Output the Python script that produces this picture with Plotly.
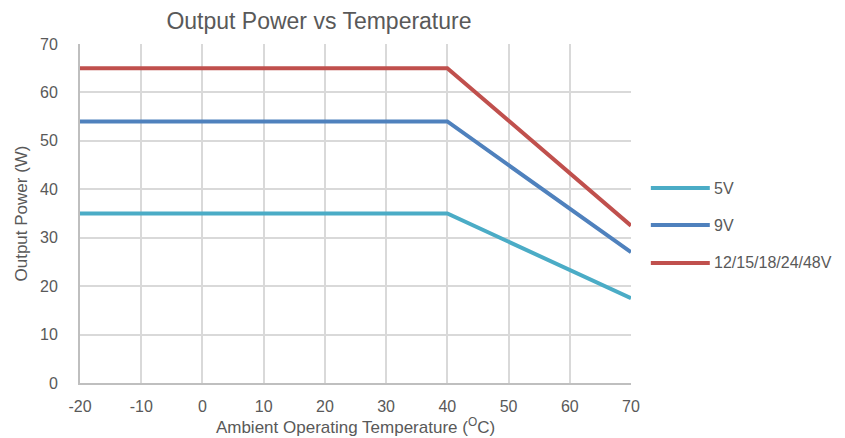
import plotly.graph_objects as go

temps = [-20, 40, 70]
p_5v = [35, 35, 17.5]
p_9v = [54, 54, 27]
p_12v = [65, 65, 32.5]
names = ["5V", "9V", "12/15/18/24/48V"]
colors = ["#4BACC6", "#4F81BD", "#C0504D"]
series = [p_5v, p_9v, p_12v]
x_ticks = [-20, -10, 0, 10, 20, 30, 40, 50, 60, 70]
x_labels = ["-20", "-10", "0", "10", "20", "30", "40", "50", "60", "70"]
y_ticks = [0, 10, 20, 30, 40, 50, 60, 70]

FONT = "Liberation Sans, Arial, sans-serif"
fig = go.Figure()
for name, vals, c in zip(names, series, colors):
    fig.add_trace(go.Scatter(x=temps, y=vals, mode="lines", name=name,
                             line=dict(color=c, width=4), showlegend=False))

# manual legend (Excel style long line keys)
leg_y = [0.575, 0.466, 0.354]
for name, c, yy in zip(names, colors, leg_y):
    fig.add_shape(type="line", xref="paper", yref="paper", x0=1.036, x1=1.143,
                  y0=yy, y1=yy, line=dict(color=c, width=4))
    fig.add_annotation(xref="paper", yref="paper", x=1.147, y=yy, text=name,
                       showarrow=False, xanchor="left", yanchor="middle",
                       font=dict(family=FONT, size=16, color="#595959"))

fig.update_layout(
    width=845, height=438,
    margin=dict(l=72, r=222, t=36, b=63),
    paper_bgcolor="white", plot_bgcolor="white",
    title=dict(text="Output Power vs Temperature", x=0.368, xanchor="center",
               y=0.97, yanchor="middle",
               font=dict(family=FONT, size=23, color="#595959")),
    font=dict(family=FONT, size=16, color="#595959"),
)
fig.update_xaxes(range=[-20, 70], tickvals=x_ticks, ticktext=x_labels, showgrid=True,
                 gridcolor="#D9D9D9", gridwidth=2, showline=True, linecolor="#BFBFBF",
                 linewidth=2, zeroline=False, ticks="", ticklabelstandoff=8,
                 tickfont=dict(size=16), automargin=False,
                 title=dict(text="Ambient Operating Temperature (<sup>O</sup>C)",
                            font=dict(size=17, color="#595959"), standoff=4))
fig.update_yaxes(range=[0, 70], tickvals=y_ticks, showgrid=True, gridcolor="#D9D9D9",
                 gridwidth=2, showline=True, linecolor="#BFBFBF", linewidth=2,
                 zeroline=False, ticks="", ticklabelstandoff=17,
                 tickfont=dict(size=16), automargin=False,
                 title=dict(text="Output Power (W)", font=dict(size=17, color="#595959"),
                            standoff=8))
fig.write_html("out.html")
